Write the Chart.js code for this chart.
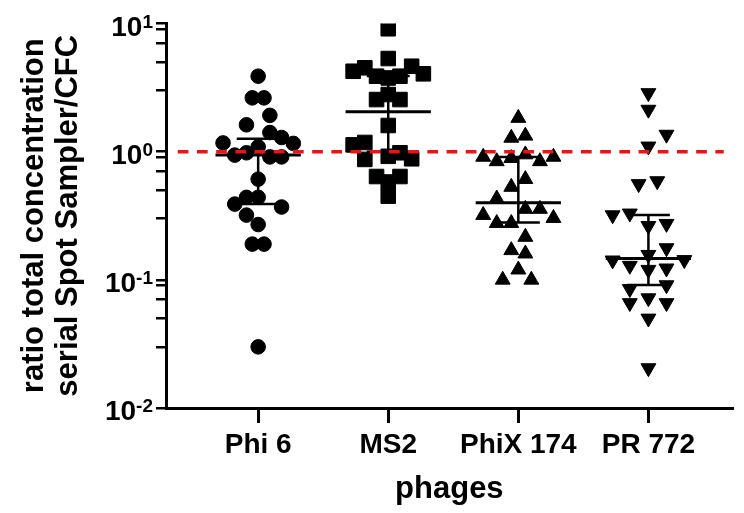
<!DOCTYPE html>
<html>
<head>
<meta charset="utf-8">
<script src="https://cdn.jsdelivr.net/npm/chart.js@4.4.1/dist/chart.umd.min.js"></script>
<style>
body{margin:0;background:#fff}
#wrap{width:744px;height:513px}
</style>
</head>
<body>
<div id="wrap"><canvas id="chart" width="744" height="513"></canvas></div>
<script>
let phages = ['Phi 6', 'MS2', 'PhiX 174', 'PR 772'];

// single ratios; *Dx = horizontal spread inside the column (in category units)
let phi6 = [3.88, 2.63, 2.63, 1.92, 1.62, 1.41, 1.29, 1.17, 1.16, 1.09, 0.98, 0.94, 0.91, 0.91, 0.61, 0.44, 0.44, 0.39, 0.37, 0.32, 0.27, 0.19, 0.19, 0.03];
let phi6Dx = [0, -0.045, 0.045, 0.09, -0.09, 0.09, 0.18, -0.27, 0.27, 0, -0.09, -0.18, 0.09, 0.18, 0, -0.09, 0, -0.18, 0.18, -0.09, 0, -0.045, 0.045, 0];

let ms2 = [9.1, 5.33, 4.24, 4.51, 3.88, 3.76, 3.88, 4.64, 4.05, 2.55, 2.79, 2.55, 1.6, 1.13, 1.18, 0.87, 0.92, 0.98, 0.88, 0.64, 0.64, 0.58, 0.45];
let ms2Dx = [0, 0, -0.27, -0.18, -0.09, 0, 0.09, 0.18, 0.27, -0.09, 0, 0.09, 0, -0.27, -0.18, -0.18, 0, 0.09, 0.18, -0.09, 0.09, 0, 0];

let phiX = [1.83, 1.28, 1.33, 0.91, 0.84, 0.89, 0.95, 0.84, 0.91, 0.61, 0.53, 0.43, 0.32, 0.277, 0.277, 0.357, 0.357, 0.303, 0.216, 0.17, 0.16, 0.12, 0.10, 0.10];
let phiXDx = [0, -0.054, 0.054, -0.27, -0.166, -0.054, 0.054, 0.166, 0.27, 0.054, -0.054, -0.166, -0.27, -0.166, -0.054, 0.054, 0.166, 0.27, 0.054, -0.054, 0.054, 0, -0.12, 0.10];

let pr772 = [2.87, 2.13, 1.36, 1.10, 0.56, 0.59, 0.32, 0.33, 0.264, 0.274, 0.177, 0.142, 0.129, 0.157, 0.123, 0.143, 0.12, 0.085, 0.091, 0.066, 0.066, 0.072, 0.05, 0.0205];
let pr772Dx = [0, 0, 0.139, 0, -0.075, 0.068, -0.275, -0.143, 0, 0.139, 0.139, -0.275, -0.143, 0, 0.139, 0.276, 0, -0.143, 0.139, -0.143, 0.139, 0, 0, 0];

// median + interquartile range
let medians = [0.94, 2.05, 0.40, 0.147];
let q1 = [0.39, 1.0, 0.28, 0.091];
let q3 = [1.26, 3.9, 0.91, 0.32];

let refValue = 1;
let yTicks = [0.01, 0.03, 0.05, 0.07, 0.09, 0.1, 0.3, 0.5, 0.7, 0.9, 1, 3, 5, 7, 9, 10];
let decades = [-2, -1, 0, 1];

const FONT = '"Liberation Sans", Arial, sans-serif';

function pts(vals, dx, i){
    return vals.map((v, k) => ({x: i + 1 + dx[k], y: v}));
}

let medLine = [], whisk = [];
phages.forEach((p, i) => {
    let c = i + 1;
    medLine.push({x: c - 0.328, y: medians[i]}, {x: c + 0.328, y: medians[i]}, {x: c, y: null});
    whisk.push({x: c - 0.165, y: q3[i]}, {x: c + 0.165, y: q3[i]}, {x: c, y: null},
               {x: c, y: q3[i]}, {x: c, y: q1[i]}, {x: c, y: null},
               {x: c - 0.165, y: q1[i]}, {x: c + 0.165, y: q1[i]}, {x: c, y: null});
});

function markers(data, style, r, rot){
    return {
        data: data, pointStyle: style, pointRadius: r, pointHoverRadius: r,
        pointRotation: rot || 0,
        backgroundColor: '#000', borderColor: '#000', borderWidth: 1,
        showLine: false, order: 3
    };
}

// 10 with superscript exponent, drawn next to the y ticks
let expLabels = {
    id: 'expLabels',
    afterDraw(chart){
        let ctx = chart.ctx, ys = chart.scales.y;
        ctx.save();
        ctx.fillStyle = '#000';
        ctx.textAlign = 'right';
        ctx.textBaseline = 'alphabetic';
        decades.forEach(e => {
            let py = ys.getPixelForValue(Math.pow(10, e));
            let sup = String(e);
            ctx.font = 'bold 19px ' + FONT;
            let sw = ctx.measureText(sup).width;
            ctx.fillText(sup, 153, py + 4);
            ctx.font = 'bold 28px ' + FONT;
            ctx.fillText('10', 153 - sw, py + 12);
        });
        ctx.restore();
    }
};

new Chart(document.getElementById('chart'), {
    type: 'scatter',
    data: {
        datasets: [
            {
                data: [{x: 0.382, y: refValue}, {x: 4.579, y: refValue}],
                showLine: true, borderColor: 'rgb(235,20,20)', borderWidth: 3.5,
                borderDash: [10.7, 8.5], pointRadius: 0, order: 0
            },
            {data: medLine, showLine: true, borderColor: '#000', borderWidth: 3, pointRadius: 0, spanGaps: false, order: 1},
            {data: whisk, showLine: true, borderColor: '#000', borderWidth: 2.5, pointRadius: 0, spanGaps: false, order: 1},
            markers(pts(phi6, phi6Dx, 0), 'circle', 7.3),
            markers(pts(ms2, ms2Dx, 1), 'rect', 10.3),
            markers(pts(phiX, phiXDx, 2), 'triangle', 8.6),
            markers(pts(pr772, pr772Dx, 3), 'triangle', 8.6, 180)
        ]
    },
    options: {
        responsive: false,
        animation: false,
        devicePixelRatio: 1,
        layout: {padding: {top: 23.5, left: 0, right: 0, bottom: 0}},
        plugins: {legend: {display: false}, tooltip: {enabled: false}},
        scales: {
            x: {
                type: 'linear', min: 0.2915, max: 4.648,
                afterBuildTicks: s => { s.ticks = [1, 2, 3, 4].map(v => ({value: v})); },
                afterFit: s => { s.height = 105; },
                border: {display: true, color: '#000', width: 3},
                grid: {display: true, drawOnChartArea: false, drawTicks: true, tickLength: 15, lineWidth: 3, color: '#000'},
                ticks: {
                    autoSkip: false, maxRotation: 0, padding: 5, color: '#000',
                    font: {family: FONT, size: 28, weight: 'bold'},
                    callback: v => phages[v - 1] || ''
                },
                title: {
                    display: true, text: 'phages', color: '#000',
                    font: {family: FONT, size: 31, weight: 'bold', lineHeight: 1.08},
                    padding: {top: 0, bottom: 7}
                }
            },
            y: {
                type: 'logarithmic', min: 0.01, max: 10,
                afterBuildTicks: s => { s.ticks = yTicks.map(v => ({value: v})); },
                afterFit: s => { s.width = 166; },
                border: {display: true, color: '#000', width: 3},
                grid: {display: true, drawOnChartArea: false, drawTicks: true, tickLength: 10, lineWidth: 2.5, color: '#000'},
                ticks: {autoSkip: false, callback: () => ''},
                title: {
                    display: true, text: ['ratio total concentration', 'serial Spot Sampler/CFC'], color: '#000',
                    font: {family: FONT, size: 31, weight: 'bold', lineHeight: 1.08},
                    padding: {top: 18, bottom: 0}
                }
            }
        }
    },
    plugins: [expLabels]
});
</script>
</body>
</html>
